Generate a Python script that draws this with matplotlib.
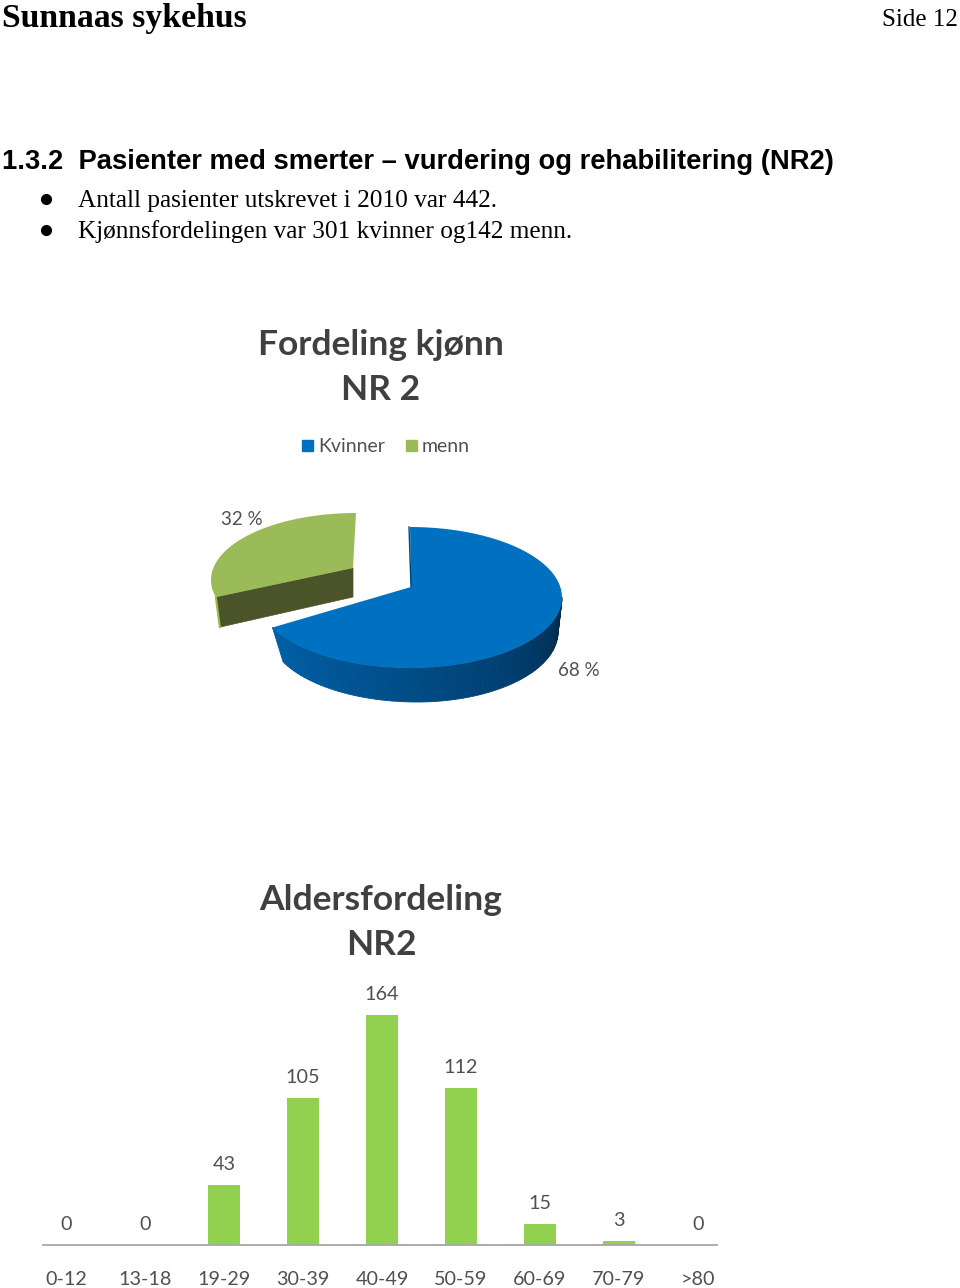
import numpy as np
import matplotlib
matplotlib.use('Agg')
import matplotlib.pyplot as plt
from matplotlib.patches import Polygon, Rectangle
from matplotlib.colors import LinearSegmentedColormap

# data
pie_labels = ['Kvinner', 'menn']
pie_values = [68, 32]
pie_colors = ['#0070c0', '#9bbb59']
age_groups = ['0-12', '13-18', '19-29', '30-39', '40-49', '50-59', '60-69', '70-79', '>80']
age_counts = [0, 0, 43, 105, 164, 112, 15, 3, 0]
bullets = ['Antall pasienter utskrevet i 2010 var 442.',
           'Kjønnsfordelingen var 301 kvinner og142 menn.']

W, H = 960, 1288
fig = plt.figure(figsize=(W / 100, H / 100), dpi=100)
ax = fig.add_axes([0, 0, 1, 1])
ax.set_xlim(0, W)
ax.set_ylim(H, 0)
ax.axis('off')

serif = 'Liberation Serif'
sans = 'Liberation Sans'
chart = ['Lato', 'DejaVu Sans']
grey = '#505050'

ax.text(2, 18, 'Sunnaas sykehus', family=serif, weight='bold', fontsize=24.3, va='center')
ax.text(958, 20, 'Side 12', family=serif, fontsize=18, va='center', ha='right')
ax.text(2, 162, '1.3.2  Pasienter med smerter – vurdering og rehabilitering (NR2)',
        family=sans, weight='bold', fontsize=19.7, va='center')
for y, b in zip([199, 230], bullets):
    ax.plot([46], [y], 'o', color='black', ms=7)
    ax.text(78, y + 2, b, family=serif, fontsize=18.2, va='center')

# pie chart
ax.text(381, 345, 'Fordeling kjønn', family=chart, weight='bold', fontsize=25.5,
        color='#404040', ha='center', va='center')
ax.text(381, 390, 'NR 2', family=chart, weight='bold', fontsize=25.5,
        color='#404040', ha='center', va='center')
ax.add_patch(Rectangle((302, 440), 11, 11, color=pie_colors[0]))
ax.text(318, 446, pie_labels[0], family=chart, fontsize=14, color=grey, va='center')
ax.add_patch(Rectangle((406, 440), 11, 11, color=pie_colors[1]))
ax.text(422, 446, pie_labels[1], family=chart, fontsize=14, color=grey, va='center')


def ell(cx, cy, a0, a1, rx, ry, n=80):
    t = np.radians(np.linspace(a0, a1, n))
    return np.c_[cx + rx * np.cos(t), cy - ry * np.sin(t)]


def under(a0, a1, n=5):
    # lower rim, a bit wider on the left than on the right
    t = np.radians(np.linspace(a0, a1, n))
    rx = np.where(np.cos(t) < 0, 148, 141)
    return np.c_[417 + rx * np.cos(t), 632 - 70 * np.sin(t)]


# blue slice
sweep = pie_values[0] / sum(pie_values) * 360 * 1.0
end = 90 - sweep
top = ell(410, 597.5, 90, end, 152, 70.5)
n = 70
cm = LinearSegmentedColormap.from_list('s', ['#005fa6', '#00508c', '#003f70', '#002a4c'])
tt = np.linspace(end, 0, n + 1)
for i in range(n):
    a = ell(410, 597.5, tt[i], tt[i + 1], 152, 70.5, 5)
    b = under(tt[i], tt[i + 1])
    c = cm(i / n)
    ax.add_patch(Polygon(np.r_[a, b[::-1]], closed=True, fc=c, ec=c, lw=0.6))
ax.add_patch(Polygon(np.r_[[[411, 587]], top], closed=True, color=pie_colors[0], lw=0))
ax.plot([409, 411], [527, 587], color='#00497d', lw=1)
ax.text(579, 670, '%d %%' % pie_values[0], family=chart, fontsize=13.5, color=grey, ha='center', va='center')

# green slice pulled out
sweep2 = pie_values[1] / sum(pie_values) * 360 * 0.91
top2 = ell(356, 580, 90, 90 + sweep2, 145, 67)
apex = np.array([353, 568])
ax.add_patch(Polygon([apex, top2[-1], top2[-1] + [4, 30], apex + [0, 29]], closed=True,
                     fc='#4a5428', ec='#4a5428', lw=0.5))
ax.plot([top2[-1][0], top2[-1][0] + 4], [top2[-1][1], top2[-1][1] + 30], color=pie_colors[1], lw=1.5)
ax.add_patch(Polygon(np.r_[[apex], top2], closed=True, color=pie_colors[1], lw=0))
ax.text(242, 519, '%d %%' % pie_values[1], family=chart, fontsize=13.5, color=grey, ha='center', va='center')

# bar chart
ax.text(381, 900, 'Aldersfordeling', family=chart, weight='bold', fontsize=25.5,
        color='#404040', ha='center', va='center')
ax.text(381, 945, 'NR2', family=chart, weight='bold', fontsize=25.5,
        color='#404040', ha='center', va='center')
bx = fig.add_axes([43 / W, 1 - 1245 / H, 674 / W, 245 / H])
x = np.arange(len(age_groups))
bx.bar(x, age_counts, width=0.4, color='#92d050')
bx.set_xlim(-0.291, 8.241)
bx.set_ylim(0, 174.7)
bx.patch.set_alpha(0)
for s in ['top', 'left', 'right']:
    bx.spines[s].set_visible(False)
bx.spines['bottom'].set_color('#a6a6a6')
bx.spines['bottom'].set_linewidth(1.3)
bx.set_yticks([])
bx.set_xticks(x)
bx.set_xticklabels(age_groups, family=chart, fontsize=14.2, color=grey)
bx.tick_params(axis='x', length=0, pad=19)
for i, v in zip(x, age_counts):
    bx.annotate(str(v), (i, v), xytext=(0, 14.5), textcoords='offset points', ha='center', va='center',
                family=chart, fontsize=14.2, color=grey)

fig.savefig('out.png', dpi=100)
